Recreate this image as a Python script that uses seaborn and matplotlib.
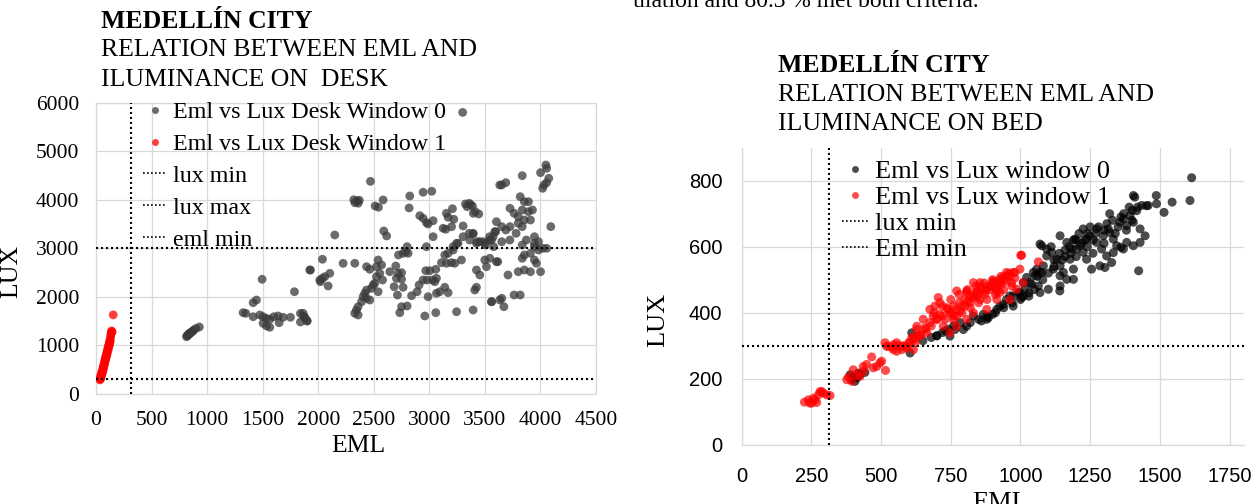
import numpy as np
import pandas as pd
import matplotlib
matplotlib.use("Agg")
import matplotlib.pyplot as plt
from matplotlib.lines import Line2D
import seaborn as sns

# ---- desk panel data (EML, lux) ----
desk_w0_eml = [
    3300, 2470, 2320, 2350, 2370, 2330, 2360, 2584, 2512, 2542, 2824, 2944, 3022, 2818, 2914, 2944,
    2974, 3034, 2989, 3154, 3208, 3169, 3220, 3124, 3148, 3200, 3325, 3370, 3388, 3445, 3304, 3304,
    3394, 3034, 2149, 2590, 2616, 3245, 3364, 3454, 3499, 3559, 3589, 3604, 3634, 2800, 2974, 3214,
    2764, 2722, 2809, 2788, 2038, 1930, 2224, 2329, 2014, 2038, 2059, 2104, 2089, 2020, 2435, 2464,
    2539, 2524, 2570, 2554, 2579, 2524, 2509, 2494, 2539, 2480, 2435, 2419, 2404, 2435, 2464, 2390,
    2359, 2344, 2329, 2359, 2644, 2698, 2719, 2750, 2704, 2750, 2683, 2764, 2713, 2840, 2890, 2908,
    2944, 2968, 3004, 3058, 2980, 3028, 3064, 3049, 3109, 3154, 3199, 3229, 3289, 3139, 3169, 3214,
    3259, 3394, 3424, 3484, 3544, 3574, 3514, 3499, 3544, 3604, 3424, 3454, 3409, 3424, 3064, 3094,
    3169, 3139, 2989, 2750, 2800, 2734, 3058, 3245, 3394, 3560, 3634, 2959, 1840, 1870, 1900, 1880,
    815, 825, 835, 850, 860, 880, 900, 930, 840, 870, 820, 845, 1324, 1348, 1414, 1444,
    1495, 1414, 1474, 1504, 1534, 1564, 1504, 1534, 1564, 1600, 1639, 1648, 1684, 1750, 1786, 1924,
    1864, 1879, 1900, 1840, 3652, 3688, 3836, 4001, 4049, 4056, 4075, 4020, 4031, 4056, 3818, 3855,
    3892, 3836, 3892, 3928, 3800, 3855, 3910, 3726, 3763, 3800, 3726, 3836, 3781, 3873, 3946, 3983,
    4056, 4093, 3946, 3652, 3597, 3689, 3542, 3505, 3579, 3432, 3359, 3396, 3359, 3340, 3414, 3652,
    3725, 3836, 3855, 3836, 3946, 3983, 4020, 3910, 3946, 3964, 4001, 3910, 3855, 3800, 3708, 3652,
    3671, 3763, 3818, 3560, 3616,
]
desk_w0_lux = [
    5800, 4380, 4000, 3980, 3990, 3940, 3930, 3996, 3873, 3846, 4079, 4155, 4176, 3832, 3673, 3619,
    3529, 3570, 3502, 3722, 3817, 3640, 3599, 3413, 3393, 3446, 3914, 3900, 3873, 3708, 3461, 3240,
    3310, 3240, 3275, 3358, 3255, 3104, 3172, 3137, 3104, 3172, 3343, 3549, 4305, 3034, 3034, 3034,
    2898, 2863, 2898, 2931, 2775, 2554, 2692, 2692, 2348, 2383, 2417, 2486, 2225, 2313, 2622, 2569,
    2760, 2622, 2657, 2486, 2348, 2416, 2280, 2245, 2107, 2177, 2142, 2074, 2004, 1971, 1936, 1901,
    1798, 1730, 1662, 1627, 2520, 2637, 2486, 2499, 2383, 2363, 2211, 2198, 2039, 2025, 2107, 2245,
    2348, 2540, 2540, 2569, 2348, 2348, 2383, 2313, 2705, 2692, 2705, 2692, 2760, 2863, 2898, 2966,
    3104, 3296, 3104, 3137, 3172, 3240, 2622, 2760, 2795, 2725, 2554, 2451, 2142, 2198, 2074, 2107,
    2087, 2198, 2004, 1798, 1813, 1675, 1675, 1695, 1730, 1901, 1936, 1607, 1660, 1600, 1500, 1560,
    1180, 1210, 1240, 1260, 1280, 1320, 1350, 1380, 1230, 1290, 1200, 1250, 1675, 1662, 1881, 1936,
    2363, 1592, 1627, 1592, 1559, 1538, 1456, 1401, 1374, 1592, 1607, 1469, 1580, 1580, 2107, 2554,
    1662, 1580, 1510, 1483, 4305, 4353, 4497, 4559, 4717, 4649, 4443, 4237, 4305, 4353, 4064, 3961,
    3961, 3790, 3756, 3790, 3652, 3584, 3584, 3825, 3722, 3516, 3447, 3447, 3310, 3172, 3034, 3137,
    3001, 3447, 3240, 3447, 3343, 3378, 3240, 3069, 3034, 3137, 3310, 3722, 3928, 3859, 3756, 3137,
    3172, 3069, 2863, 2795, 3104, 2966, 3001, 2898, 2760, 2692, 2519, 2519, 2554, 2519, 2451, 1971,
    1798, 2039, 2039, 1901, 2725,
]
desk_w1_eml = [35, 37, 40, 42, 45, 48, 50, 52, 55, 58, 60, 62, 65, 68, 70, 72, 75, 78, 80, 82,
               85, 88, 90, 92, 95, 98, 100, 102, 105, 108, 110, 112, 115, 118, 120, 122, 125, 128,
               130, 132, 135, 138, 140, 145, 155]
desk_w1_lux = [290, 320, 350, 310, 390, 360, 430, 400, 470, 440, 510, 480, 560, 530, 600, 580,
               650, 620, 700, 670, 740, 720, 790, 760, 830, 800, 880, 850, 920, 900, 970, 940,
               1010, 990, 1060, 1030, 1110, 1080, 1150, 1200, 1240, 1270, 1300, 1280, 1630]

# ---- bed panel data (EML, lux) ----
bed_w0_eml = [
    389, 400, 412, 424, 442, 395, 406, 418, 604, 610, 650, 700, 730, 760,
    747, 765, 807, 831, 867, 885, 915, 938, 950, 974, 998, 1010, 1022, 1046, 1058, 1064, 1040,
    1004, 974, 926, 879, 795, 783, 1070,
    962, 992, 1016, 1034, 1052, 1070, 1082, 1076, 1094, 1112, 1130, 1142, 1154, 1166, 1142, 1166,
    1184, 1195, 1213, 1225, 1237, 1255, 1225, 1249, 1273, 1291, 1309, 1327, 1297, 1315, 1333, 1345,
    1369, 1381, 1405, 1429, 1447, 1429, 1405, 1381, 1369, 1393, 1417, 1435, 1405, 1458, 1488, 1357,
    1321, 1273, 1237, 1201, 1178, 1142, 1100, 1070, 1142, 1190, 1094, 1118, 1285, 1333,
    1614, 1608, 1544, 1515, 1487, 1452, 1410, 1141, 1077, 1190, 1424, 1360, 1303,
    1150, 1160, 1175, 1200, 1220, 1240, 1260, 1280, 1300, 1310, 1330, 1350, 1370, 1390, 1400,
    1260, 1240, 1200, 1180, 1120, 1100, 1080, 1060, 1050, 1030, 1010, 1120, 1340, 1380, 1300,
    1270, 1230, 1210, 1190, 1160, 1140, 1110, 1250, 1320, 1360, 1400, 1420,
    820, 850, 880, 910, 940, 970, 1000, 1030, 860, 900, 700, 720, 680, 740,
]
bed_w0_lux = [
    212, 207, 202, 212, 219, 197, 192, 217, 278, 339, 315, 330, 345, 360,
    329, 349, 359, 390, 395, 385, 410, 425, 440, 451, 461, 491, 507, 522, 532, 481, 486,
    446, 420, 420, 380, 349, 370, 608,
    451, 461, 471, 491, 512, 522, 542, 603, 593, 583, 562, 542, 522, 501, 633, 613,
    593, 623, 603, 583, 562, 532, 654, 633, 613, 593, 572, 552, 633, 654, 623, 603,
    593, 613, 603, 613, 633, 654, 674, 664, 684, 694, 709, 725, 755, 725, 730, 674,
    643, 654, 623, 593, 562, 512, 471, 461, 481, 501, 572, 532, 542, 582,
    809, 740, 735, 704, 755, 724, 750, 466, 522, 532, 527, 598, 537,
    560, 590, 600, 620, 610, 640, 620, 660, 650, 670, 680, 660, 700, 720, 680,
    580, 600, 570, 580, 540, 520, 500, 510, 470, 460, 450, 560, 640, 650, 610,
    640, 620, 640, 620, 570, 580, 600, 660, 700, 690, 710, 720,
    370, 380, 390, 400, 415, 430, 440, 450, 375, 395, 330, 340, 325, 350,
]
bed_w1_eml = [
    225, 239, 251, 263, 275, 281, 293, 305, 317, 257, 269, 245, 287, 377, 383, 400, 412, 436, 448,
    466, 472, 484, 496, 502, 516, 436, 424, 395, 514, 526, 544, 556, 574, 592, 610, 622, 634, 616,
    520, 544, 556, 574, 592, 604, 616, 640, 628, 657, 664, 675, 699, 711, 693, 711, 735, 747, 759,
    771, 783, 801, 819, 831, 807, 843, 855, 873, 891, 902, 915, 926, 938, 950, 968, 980, 998, 1004,
    962, 915, 879, 831, 807, 771, 747, 723, 687, 651, 628, 675, 705, 771, 855, 926,
    831, 855, 879, 902, 926, 950, 974, 1001, 1064, 1010, 986, 807, 843, 915,
    700, 720, 740, 760, 780, 800, 820, 840, 860, 880, 900, 920, 940, 960, 980, 750, 770, 790,
    810, 830, 850, 870, 890, 910, 930, 950, 680, 660, 640, 620, 600, 580, 560, 540, 690, 730,
    760, 790, 820, 850, 880, 910, 940, 970, 720, 750, 780, 810, 840, 870, 900, 930, 960,
]
bed_w1_lux = [
    129, 136, 126, 136, 151, 161, 156, 151, 149, 141, 128, 126, 161, 197, 205, 227, 212, 237, 243,
    266, 233, 237, 248, 253, 225, 222, 207, 192, 309, 298, 288, 309, 288, 298, 324, 309, 329, 288,
    298, 303, 283, 298, 293, 309, 324, 334, 349, 354, 339, 370, 380, 395, 420, 430, 415, 400, 380,
    390, 405, 420, 430, 451, 466, 466, 440, 456, 481, 496, 476, 461, 507, 522, 491, 522, 532, 574,
    440, 440, 410, 400, 380, 359, 339, 359, 390, 380, 359, 410, 446, 466, 491, 491,
    491, 481, 471, 491, 501, 511, 522, 574, 554, 491, 471, 461, 451, 461,
    380, 390, 410, 420, 430, 440, 450, 460, 470, 480, 480, 490, 500, 510, 505, 400, 410, 420,
    435, 445, 455, 465, 470, 475, 485, 495, 360, 350, 330, 320, 310, 300, 300, 295, 400, 380,
    390, 400, 415, 430, 440, 455, 470, 480, 420, 440, 455, 470, 480, 490, 500, 510, 520,
]

EML_MIN = 312
LUX_MIN = 300
LUX_MAX = 3000

desk = pd.concat([
    pd.DataFrame({"eml": desk_w0_eml, "lux": desk_w0_lux, "win": "Eml vs Lux Desk Window 0"}),
    pd.DataFrame({"eml": desk_w1_eml, "lux": desk_w1_lux, "win": "Eml vs Lux Desk Window 1"}),
])
bed = pd.concat([
    pd.DataFrame({"eml": bed_w0_eml, "lux": bed_w0_lux, "win": "Eml vs Lux window 0"}),
    pd.DataFrame({"eml": bed_w1_eml, "lux": bed_w1_lux, "win": "Eml vs Lux window 1"}),
])

sns.set_style("white")
plt.rcParams["font.family"] = ["Liberation Serif", "DejaVu Serif"]
plt.rcParams["text.color"] = "black"
plt.rcParams["axes.labelcolor"] = "black"
plt.rcParams["xtick.color"] = "black"
plt.rcParams["ytick.color"] = "black"
SERIF = ["Liberation Serif", "DejaVu Serif"]
SANS = ["Liberation Sans", "DejaVu Sans"]

W, H = 1258, 504
fig = plt.figure(figsize=(W / 100, H / 100), dpi=100)

dot = (0, (1, 1.4))
grid_c = "#d9d9d9"


def px_axes(l, t, r, b):
    return fig.add_axes([l / W, 1 - b / H, (r - l) / W, (b - t) / H])


# ---------------- left: desk ----------------
ax1 = px_axes(96, 102.7, 596, 394)
sns.scatterplot(data=desk, x="eml", y="lux", hue="win",
                palette=["#3a3a3a", "#ff0000"], alpha=0.75, s=40, linewidth=0,
                ax=ax1, legend=False, zorder=3)
ax1.set_xlim(0, 4500)
ax1.set_ylim(0, 6000)
ax1.set_xticks(np.arange(0, 4501, 500))
ax1.set_yticks(np.arange(0, 6001, 1000))
ax1.grid(True, color=grid_c, lw=0.9)
ax1.set_axisbelow(True)
for sp in ax1.spines.values():
    sp.set_color(grid_c)
    sp.set_linewidth(0.9)
ax1.axhline(LUX_MIN, color="black", ls=dot, lw=1.5, zorder=4)
ax1.axhline(LUX_MAX, color="black", ls=dot, lw=1.5, zorder=4)
ax1.axvline(EML_MIN, color="black", ls=dot, lw=1.5, zorder=4)
ax1.tick_params(length=0, labelsize=15.5, pad=12)
for t in ax1.get_xticklabels() + ax1.get_yticklabels():
    t.set_family(SERIF)
ax1.set_xlabel("EML", fontsize=18.5)
ax1.set_ylabel("LUX", fontsize=18.5)
ax1.xaxis.set_label_coords(0.525, -0.14)
ax1.yaxis.set_label_coords(-0.148, 0.42)

h1 = [
    Line2D([], [], ls="none", marker="o", ms=5, color="#3a3a3a", alpha=0.75, mew=0),
    Line2D([], [], ls="none", marker="o", ms=5, color="#ff0000", alpha=0.75, mew=0),
    Line2D([], [], color="black", ls=dot, lw=1.2),
    Line2D([], [], color="black", ls=dot, lw=1.2),
    Line2D([], [], color="black", ls=dot, lw=1.2),
]
lab1 = ["Eml vs Lux Desk Window 0", "Eml vs Lux Desk Window 1", "lux min", "lux max", "eml min"]
ax1.legend(h1, lab1, loc="upper left", bbox_to_anchor=(0.094, 1.005), frameon=False,
           fontsize=17.3, handlelength=1.0, handletextpad=0.25, labelspacing=0.42,
           borderpad=0, borderaxespad=0)

for i, (txt, w) in enumerate([("MEDELLÍN CITY", "bold"),
                              ("RELATION BETWEEN EML AND", "normal"),
                              ("ILUMINANCE ON  DESK", "normal")]):
    fig.text(101 / W, 1 - (27.5 + 29 * i) / H, txt, fontsize=18.5, fontweight=w,
             family=SERIF, va="baseline", ha="left")

# ---------------- right: bed ----------------
ax2 = px_axes(741.7, 147.7, 1243.5, 444.7)
sns.scatterplot(data=bed, x="eml", y="lux", hue="win",
                palette=["#000000", "#ff0000"], alpha=0.7, s=42, linewidth=0,
                ax=ax2, legend=False, zorder=3)
ax2.set_xlim(0, 1800)
ax2.set_ylim(0, 900)
ax2.set_xticks(np.arange(0, 1751, 250))
ax2.set_yticks(np.arange(0, 801, 200))
ax2.grid(True, color=grid_c, lw=0.9)
ax2.set_axisbelow(True)
for k, sp in ax2.spines.items():
    sp.set_color(grid_c)
    sp.set_linewidth(0.9)
    if k in ("top", "right"):
        sp.set_visible(False)
ax2.axhline(LUX_MIN, color="black", ls=dot, lw=1.5, zorder=4)
ax2.axvline(EML_MIN, color="black", ls=dot, lw=1.5, zorder=4)
ax2.tick_params(axis="x", length=0, labelsize=14.5, pad=16)
ax2.tick_params(axis="y", length=0, labelsize=14.5, pad=14)
for t in ax2.get_xticklabels() + ax2.get_yticklabels():
    t.set_family(SANS)
ax2.set_xlabel("EML", fontsize=19)
ax2.set_ylabel("LUX", fontsize=19)
ax2.xaxis.set_label_coords(0.515, -0.16)
ax2.yaxis.set_label_coords(-0.145, 0.42)

h2 = [
    Line2D([], [], ls="none", marker="o", ms=5, color="#000000", alpha=0.7, mew=0),
    Line2D([], [], ls="none", marker="o", ms=5, color="#ff0000", alpha=0.7, mew=0),
    Line2D([], [], color="black", ls=dot, lw=1.2),
    Line2D([], [], color="black", ls=dot, lw=1.2),
]
lab2 = ["Eml vs Lux window 0", "Eml vs Lux window 1", "lux min", "Eml min"]
ax2.legend(h2, lab2, loc="upper left", bbox_to_anchor=(0.2, 0.96), frameon=False,
           fontsize=19, handlelength=1.0, handletextpad=0.25, labelspacing=0.1,
           borderpad=0, borderaxespad=0)

for i, (txt, w) in enumerate([("MEDELLÍN CITY", "bold"),
                              ("RELATION BETWEEN EML AND", "normal"),
                              ("ILUMINANCE ON BED", "normal")]):
    fig.text(778 / W, 1 - (72 + 29 * i) / H, txt, fontsize=18.5, fontweight=w,
             family=SERIF, va="baseline", ha="left")

# text of the page, cut off by the crop
fig.text(633 / W, 1 - 7 / H, "ulation and 80.3 % met both criteria.", fontsize=17,
         family=SERIF, va="baseline", ha="left")

fig.savefig("out.png", dpi=100)
